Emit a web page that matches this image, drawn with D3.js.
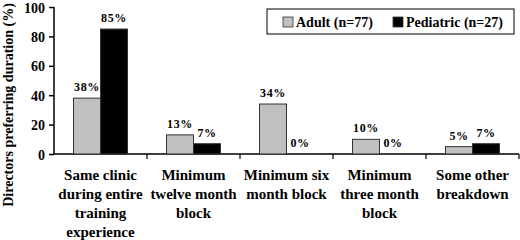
<!DOCTYPE html>
<html>
<head>
<meta charset="utf-8">
<script src="https://cdn.jsdelivr.net/npm/d3@7"></script>
<style>
  body { margin: 0; background: #fff; }
</style>
</head>
<body>
<svg class="chart" width="520" height="240"></svg>
<script>
var categories = [
  ["Same clinic", "during entire", "training", "experience"],
  ["Minimum", "twelve month", "block"],
  ["Minimum six", "month block"],
  ["Minimum", "three month", "block"],
  ["Some other", "breakdown"]
];
var adult = [38, 13, 34, 10, 5];
var pediatric = [85, 7, 0, 0, 7];
var seriesNames = ["Adult (n=77)", "Pediatric (n=27)"];
var yTicks = [0, 20, 40, 60, 80, 100];

var FONT = "'Liberation Serif', 'DejaVu Serif', serif";
var vis = d3.select(".chart"),
    MARGINS = { top: 7, right: 1, bottom: 86, left: 54 },
    WIDTH = 520, HEIGHT = 240;

var idx = d3.range(categories.length);
var xScale = d3.scaleBand().domain(idx).range([MARGINS.left, WIDTH - MARGINS.right]);
var inner = d3.scaleBand().domain([0, 1]).range([0, 54]);
var yScale = d3.scaleLinear().domain([0, 100]).range([HEIGHT - MARGINS.bottom, MARGINS.top]);
var colors = ["#c0c0c0", "#000"];

// y axis
var yAxis = d3.axisLeft(yScale).tickValues(yTicks).tickSize(5).tickPadding(4);
var gy = vis.append("g")
    .attr("transform", "translate(" + MARGINS.left + ",0)")
    .call(yAxis);
gy.attr("font-family", null).attr("font-size", null);
gy.selectAll("text").style("font-size", "14px").attr("dy", "0.36em");
gy.selectAll("path, line").attr("stroke", "#000").attr("stroke-width", 1.5);
gy.select(".domain").attr("d", "M0," + yScale(100) + "V" + yScale(0));

// x axis line + ticks at band boundaries
var base = yScale(0);
vis.append("line")
    .attr("x1", MARGINS.left).attr("x2", WIDTH - MARGINS.right)
    .attr("y1", base).attr("y2", base)
    .attr("stroke", "#000").attr("stroke-width", 1.5);
vis.selectAll(".xtick").data(idx.slice(1).concat([categories.length])).enter()
  .append("line")
    .attr("x1", function(d) { return d < categories.length ? xScale(d) : xScale(d - 1) + xScale.bandwidth(); })
    .attr("x2", function(d) { return d < categories.length ? xScale(d) : xScale(d - 1) + xScale.bandwidth(); })
    .attr("y1", base).attr("y2", base + 5)
    .attr("stroke", "#000").attr("stroke-width", 1.2);

// bars
var groups = vis.selectAll(".grp").data(idx).enter().append("g")
    .attr("transform", function(i) { return "translate(" + (xScale(i) + (xScale.bandwidth() - 54) / 2) + ",0)"; });

[adult, pediatric].forEach(function(vals, s) {
  groups.append("rect")
    .attr("x", inner(s))
    .attr("width", inner.bandwidth())
    .attr("y", function(i) { return yScale(vals[i]); })
    .attr("height", function(i) { return base - yScale(vals[i]); })
    .attr("fill", colors[s])
    .attr("stroke", "#333")
    .attr("stroke-width", 1);

  groups.append("text")
    .attr("x", inner(s) + inner.bandwidth() / 2)
    .attr("y", function(i) { return vals[i] === 0 ? base - 7 : yScale(vals[i]) - 7; })
    .attr("text-anchor", "middle")
    .style("font-size", "12px")
    .style("letter-spacing", "0.6px")
    .text(function(i) { return vals[i] + "%"; });
});

// category labels
vis.selectAll(".cat").data(idx).enter().append("text")
    .attr("text-anchor", "middle")
    .style("font-size", "15px")
    .attr("transform", function(i) { return "translate(" + (xScale(i) + xScale.bandwidth() / 2) + ",0)"; })
  .selectAll("tspan").data(function(i) { return categories[i]; }).enter().append("tspan")
    .attr("x", 0)
    .attr("y", function(d, j) { return 180 + j * 19; })
    .text(function(d) { return d; });

// axis title
vis.append("text")
    .attr("transform", "translate(13,105) rotate(-90)")
    .attr("text-anchor", "middle")
    .style("font-size", "14px")
    .text("Directors preferring duration (%)");

// legend
var lg = vis.append("g").attr("transform", "translate(267,9)");
lg.append("rect").attr("width", 247).attr("height", 25)
    .attr("fill", "#fff").attr("stroke", "#000").attr("stroke-width", 1);
var lx = [16, 126];
seriesNames.forEach(function(n, s) {
  lg.append("rect").attr("x", lx[s]).attr("y", 8).attr("width", 10).attr("height", 10)
    .attr("fill", colors[s]).attr("stroke", "#333").attr("stroke-width", 0.8);
  lg.append("text").attr("x", lx[s] + 13).attr("y", 18)
    .style("font-size", "14px").text(n);
});

vis.selectAll("text")
    .style("font-family", FONT)
    .style("font-weight", "bold")
    .attr("fill", "#000");
</script>
</body>
</html>
